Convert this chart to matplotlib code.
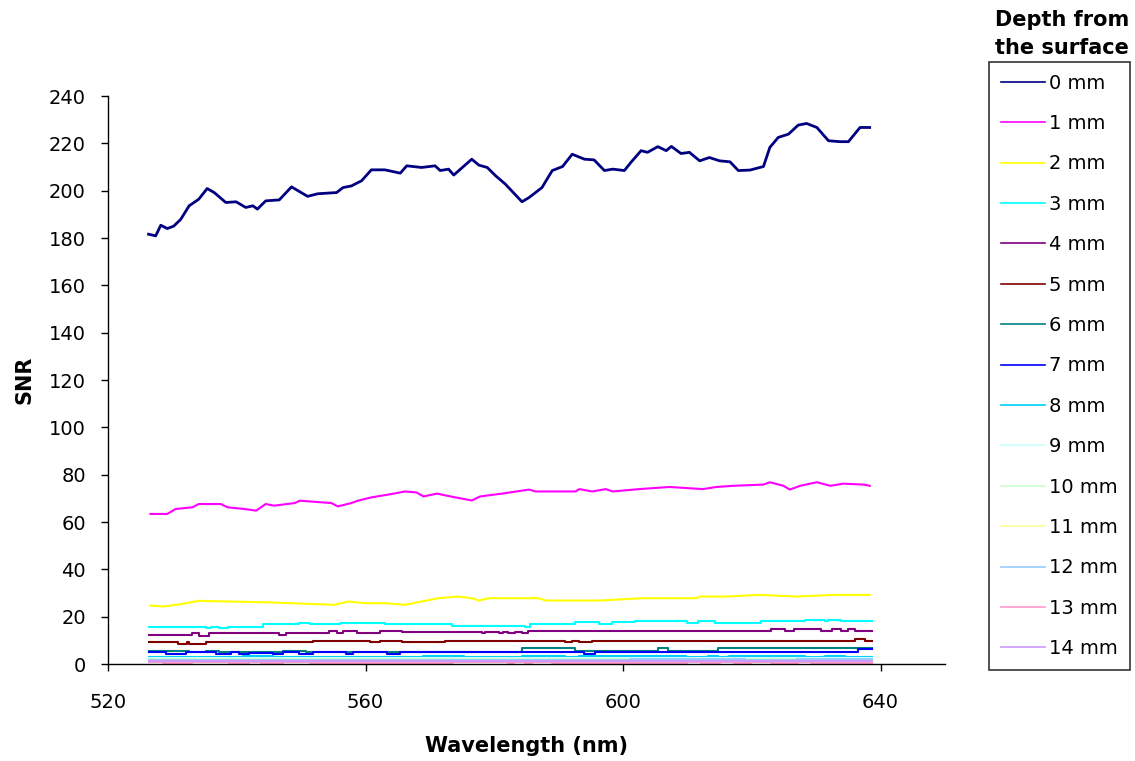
import numpy as np
import matplotlib
matplotlib.use('Agg')
import matplotlib.pyplot as plt

# SNR vs wavelength for different depths from the surface

# 0 mm
wl0 = [526.3, 527.4, 528.2, 529.2, 530.2, 531.3, 532.6, 534.1, 535.4, 536.5,
       538.3, 539.9, 541.4, 542.5, 543.2, 544.5, 546.6, 548.5, 551.0, 552.6,
       555.5, 556.5, 557.8, 559.4, 560.9, 563.0, 565.4, 566.4, 568.7, 570.8,
       571.6, 572.9, 573.7, 576.5, 577.6, 578.9, 580.2, 581.7, 584.3, 585.4,
       587.4, 589.0, 590.6, 592.1, 594.0, 595.5, 597.1, 598.4, 600.2, 601.2,
       602.8, 603.8, 605.4, 606.7, 607.5, 609.0, 610.3, 611.9, 613.4, 615.0,
       616.6, 617.9, 619.7, 621.8, 622.8, 624.1, 625.7, 627.2, 628.5, 630.1,
       631.9, 633.7, 635.0, 636.8, 638.3]
snr0 = [181.6, 180.9, 185.4, 184.0, 185.0, 187.9, 193.6, 196.4, 200.9, 199.2,
        195.0, 195.3, 192.9, 193.6, 192.2, 195.7, 196.1, 201.6, 197.6, 198.7,
        199.2, 201.3, 202.0, 204.2, 208.8, 208.8, 207.4, 210.5, 209.8, 210.5,
        208.5, 209.1, 206.6, 213.3, 210.8, 209.8, 206.3, 202.8, 195.3, 197.1,
        201.3, 208.5, 210.2, 215.4, 213.3, 213.0, 208.5, 209.1, 208.5, 211.9,
        216.9, 216.2, 218.6, 216.9, 218.7, 215.7, 216.2, 212.6, 214.0, 212.6,
        212.2, 208.5, 208.7, 210.2, 218.3, 222.5, 223.9, 227.7, 228.4, 226.7,
        221.1, 220.7, 220.7, 226.7, 226.7]

# 1 mm
wl1 = [526.6, 529.2, 530.5, 533.1, 534.1, 537.5, 538.6, 541.2, 543.0, 544.5,
       545.8, 549.0, 549.8, 554.7, 555.7, 557.8, 558.8, 560.9, 564.0, 566.1,
       567.9, 569.0, 571.1, 573.2, 576.5, 577.8, 581.2, 585.4, 586.4, 592.6,
       593.2, 595.2, 597.3, 598.4, 602.5, 607.2, 612.4, 614.5, 617.1, 621.8,
       622.8, 624.9, 625.9, 627.5, 630.1, 632.2, 634.2, 637.4, 638.3]
snr1 = [63.4, 63.4, 65.5, 66.2, 67.6, 67.6, 66.2, 65.5, 64.8, 67.6,
        66.9, 68.0, 69.0, 68.0, 66.6, 68.0, 69.0, 70.4, 71.8, 72.9,
        72.5, 70.8, 72.0, 70.8, 69.1, 70.8, 72.0, 73.7, 72.9, 72.9,
        73.9, 72.9, 73.9, 72.9, 73.9, 74.8, 73.9, 74.8, 75.3, 75.8,
        76.8, 75.3, 73.7, 75.3, 76.8, 75.3, 76.2, 75.8, 75.3]

# 2 mm
wl2 = [526.6, 528.7, 531.3, 534.1, 545.3, 555.2, 557.3, 559.9, 563.0, 566.1,
       568.7, 571.3, 574.4, 576.5, 577.6, 579.1, 586.9, 588.0, 596.3, 603.0,
       611.4, 611.9, 616.0, 621.2, 626.9, 632.7, 638.3]
snr2 = [24.7, 24.3, 25.3, 26.7, 26.0, 25.0, 26.4, 25.7, 25.7, 25.0,
        26.4, 27.8, 28.5, 27.8, 26.8, 27.8, 27.8, 26.8, 26.8, 27.8,
        27.8, 28.5, 28.5, 29.2, 28.5, 29.2, 29.2]

# 3 mm .. 14 mm are nearly flat, kept as step breakpoints
wl3 = [526.4, 535.2, 536.0, 537.3, 538.6, 544.0, 549.7, 551.3, 556.0, 563.0,
       573.4, 584.8, 585.6, 592.6, 596.2, 598.3, 601.9, 610.0, 611.6, 614.2,
       621.4, 628.2, 631.3, 631.8, 633.9, 638.6]
snr3 = [15.5, 15.1, 15.8, 15.1, 15.8, 16.8, 17.2, 16.8, 17.2, 16.8,
        16.2, 15.8, 16.8, 17.9, 16.8, 17.9, 18.2, 17.2, 18.2, 17.2,
        18.2, 18.6, 18.2, 18.6, 18.2, 18.2]

wl4 = [526.4, 533.1, 534.2, 535.7, 546.6, 547.7, 554.4, 555.5, 556.5, 558.6,
       562.2, 565.6, 578.1, 578.6, 580.7, 581.4, 582.2, 583.2, 584.3, 585.3,
       623.0, 625.1, 626.6, 630.8, 632.4, 633.9, 634.9, 636.0, 637.0, 638.6]
snr4 = [12.3, 13.0, 12.0, 12.9, 12.3, 12.9, 13.9, 12.9, 13.9, 12.9,
        13.9, 13.4, 12.9, 13.7, 12.9, 13.7, 12.9, 13.7, 12.9, 13.9,
        14.8, 13.9, 14.8, 13.9, 14.8, 13.9, 14.8, 13.9, 13.9, 13.9]

wl5 = [526.4, 530.8, 532.3, 532.6, 535.2, 551.8, 560.7, 562.2, 565.6, 572.3,
       591.0, 592.1, 593.1, 595.2, 636.0, 637.5, 638.6]
snr5 = [9.2, 8.3, 9.2, 8.3, 9.2, 9.7, 9.2, 9.7, 9.2, 9.7,
        9.2, 9.7, 9.2, 9.7, 10.6, 9.9, 9.9]

wl6 = [526.4, 532.6, 535.2, 537.3, 547.2, 550.8, 584.3, 592.6, 605.4, 606.9,
       614.7, 638.6]
snr6 = [5.5, 4.9, 5.5, 4.9, 5.5, 5.2, 6.6, 5.5, 6.6, 5.5, 6.6, 6.6]

wl7 = [526.4, 529.0, 532.1, 536.8, 539.1, 540.4, 541.9, 545.6, 547.2, 549.7,
       551.8, 557.0, 558.1, 563.3, 565.3, 593.9, 595.7, 636.5, 638.6]
snr7 = [4.9, 4.1, 4.9, 4.1, 4.9, 4.1, 4.5, 4.1, 4.9, 4.1,
        4.9, 4.1, 4.9, 4.1, 5.2, 4.1, 5.2, 6.3, 6.3]

wl8 = [526.4, 541.0, 545.6, 569.0, 575.3, 584.3, 591.0, 593.1, 609.8, 613.2,
       614.7, 616.5, 628.2, 631.3, 634.4, 637.5, 638.6]
snr8 = [2.8, 3.3, 2.8, 3.3, 2.8, 3.3, 2.8, 3.3, 2.8, 3.3,
        2.8, 3.3, 2.8, 3.3, 2.8, 2.8, 2.8]

wl9 = [526.4, 560.0, 590.0, 620.0, 638.6]
snr9 = [2.5, 2.4, 2.6, 2.5, 2.5]

wl10 = [526.4, 548.0, 580.0, 612.0, 638.6]
snr10 = [2.1, 2.0, 2.2, 2.1, 2.1]

wl11 = [526.4, 555.0, 600.0, 638.6]
snr11 = [1.8, 1.7, 1.9, 1.9]

wl12 = [526.4, 570.0, 601.0, 619.0, 627.0, 638.6]
snr12 = [1.5, 1.6, 2.1, 1.6, 2.1, 2.1]

wl13 = [526.4, 528.5, 533.1, 538.8, 541.9, 543.7, 547.2, 551.3, 573.6, 582.2,
        583.0, 584.8, 585.8, 589.0, 610.0, 612.1, 615.0, 617.3, 619.9, 623.0,
        627.2, 629.2, 638.6]
snr13 = [1.0, 0.5, 1.0, 0.5, 1.0, 0.5, 1.0, 0.5, 1.0, 0.5,
         1.0, 0.5, 1.0, 0.5, 1.0, 0.5, 1.0, 0.5, 1.0, 0.5,
         1.0, 0.5, 0.5]

wl14 = [526.4, 560.0, 600.0, 638.6]
snr14 = [1.3, 1.4, 1.3, 1.3]

labels = ['%d mm' % d for d in range(15)]
# old excel palette
colors = ['#000080', '#FF00FF', '#FFFF00', '#00FFFF', '#800080', '#800000',
          '#008080', '#0000FF', '#00CCFF', '#CCFFFF', '#CCFFCC', '#FFFF99',
          '#99CCFF', '#FF99CC', '#CC99FF']

xs = [wl0, wl1, wl2, wl3, wl4, wl5, wl6, wl7, wl8, wl9, wl10, wl11, wl12, wl13, wl14]
ys = [snr0, snr1, snr2, snr3, snr4, snr5, snr6, snr7, snr8, snr9, snr10, snr11, snr12, snr13, snr14]

plt.rcParams['font.family'] = 'DejaVu Sans'

fig = plt.figure(figsize=(11.35, 7.61), dpi=100)
ax = fig.add_axes([108/1135., 97/761., (945-108)/1135., (664-96)/761.])

for i in range(15):
    if i < 3:
        lw = 2.0 if i == 0 else 1.5
        ax.plot(xs[i], ys[i], color=colors[i], lw=lw, label=labels[i])
    else:
        ax.plot(xs[i], ys[i], color=colors[i], lw=1.5, drawstyle='steps-post', label=labels[i])

ax.set_xlim(520, 650)
ax.set_ylim(0, 240)
ax.set_xticks([520, 560, 600, 640])
ax.set_yticks(np.arange(0, 241, 20))
ax.spines['top'].set_visible(False)
ax.spines['right'].set_visible(False)
for s in ['left', 'bottom']:
    ax.spines[s].set_linewidth(1.0)
ax.tick_params(axis='y', direction='out', length=5, width=1.0, labelsize=14, pad=11)
ax.tick_params(axis='x', direction='out', length=5, width=1.0, labelsize=14, pad=16)

ax.set_xlabel('Wavelength (nm)', fontsize=15, fontweight='bold', labelpad=17)
ax.set_ylabel('SNR', fontsize=15, fontweight='bold', labelpad=10)

leg = fig.legend(loc='upper left', bbox_to_anchor=(989/1135., 1-62/761.),
                 borderaxespad=0, fontsize=14, handlelength=2.3, handletextpad=0.2,
                 labelspacing=1.1, borderpad=0.6, fancybox=False, frameon=True)
leg.get_frame().set_edgecolor('black')
leg.get_frame().set_linewidth(1.2)
for l in leg.get_lines():
    l.set_linewidth(1.2)

fig.text(1062/1135., 1-34/761., 'Depth from\nthe surface', ha='center', va='center',
         fontsize=15, fontweight='bold', linespacing=1.45)

plt.savefig('out.png', dpi=100)
